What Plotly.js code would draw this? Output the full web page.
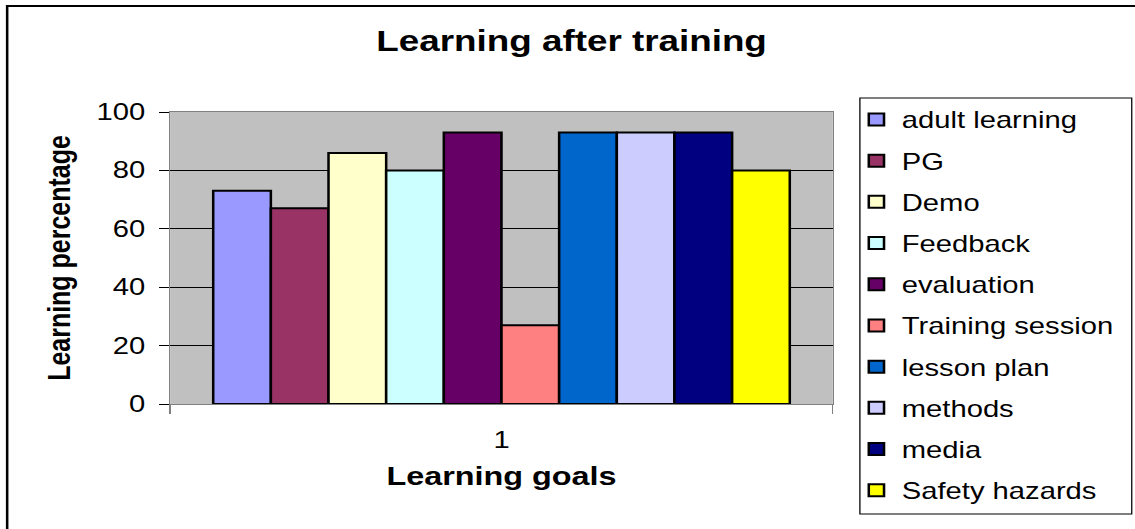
<!DOCTYPE html>
<html>
<head>
<meta charset="utf-8">
<script src="https://cdn.plot.ly/plotly-3.0.1.min.js"></script>
<style>
  html, body { margin: 0; padding: 0; background: #ffffff; overflow: hidden; }
  #chart { width: 894px; height: 529px; transform: scaleX(1.2696); transform-origin: 0 0; }
</style>
</head>
<body>
<div id="chart"></div>
<script>
// ---- data ----
const categories = ['1'];
const seriesNames = ['adult learning', 'PG', 'Demo', 'Feedback', 'evaluation',
  'Training session', 'lesson plan', 'methods', 'media', 'Safety hazards'];
const seriesValues = [73, 67, 86, 80, 93, 27, 93, 93, 93, 80];
const seriesColors = ['#9999FF', '#993366', '#FFFFCC', '#CCFFFF', '#660066',
  '#FF8080', '#0066CC', '#CCCCFF', '#000080', '#FFFF00'];
const yTicks = [0, 20, 40, 60, 80, 100];

const FONT = '"Liberation Sans", Arial, sans-serif';

const traces = seriesNames.map((name, i) => ({
  type: 'bar',
  name: name,
  x: categories,
  y: [seriesValues[i]],
  legendgroup: 'g' + i,
  marker: { color: seriesColors[i], line: { color: '#000000', width: 2 } },
  hoverinfo: 'name+y'
}));

const layout = {
  width: 894,
  height: 529,
  margin: { l: 133.9, r: 237.9, t: 112, b: 125, autoexpand: false },
  paper_bgcolor: '#ffffff',
  plot_bgcolor: '#C0C0C0',
  barmode: 'group',
  bargap: 0.13,
  bargroupgap: 0,
  font: { family: FONT, color: '#000000' },
  title: {
    text: '<b>Learning after training</b>',
    font: { family: FONT, size: 29, color: '#000000' },
    xref: 'container', x: 0.5036, xanchor: 'center',
    yref: 'container', y: 0.9228, yanchor: 'middle'
  },
  xaxis: {
    type: 'category',
    range: [-0.5, 0.5],
    showgrid: false,
    showline: true, mirror: true, linecolor: '#808080', linewidth: 1,
    ticks: 'outside', tickson: 'boundaries', ticklen: 9, tickcolor: '#808080',
    tickfont: { family: FONT, size: 23, color: '#000000' },
    ticklabelstandoff: 15,
    title: { text: '<b>Learning goals</b>', font: { family: FONT, size: 25.5, color: '#000000' }, standoff: 15 },
    automargin: false,
    fixedrange: true
  },
  yaxis: {
    range: [0, 100],
    tickvals: yTicks,
    ticktext: yTicks.map(String),
    showgrid: true, gridcolor: '#000000', gridwidth: 1,
    zeroline: false,
    showline: true, mirror: true, linecolor: '#808080', linewidth: 1,
    ticks: 'outside', ticklen: 8, tickcolor: '#000000',
    tickfont: { family: FONT, size: 23, color: '#000000' },
    ticklabelstandoff: 6,
    title: { text: '<b>Learning percentage</b>', font: { family: FONT, size: 25, color: '#000000' }, standoff: 13 },
    automargin: false,
    fixedrange: true
  },
  legend: {
    x: 1.0274, xanchor: 'left',
    y: 1.048, yanchor: 'top',
    bgcolor: 'rgba(255,255,255,0)',
    borderwidth: 0,
    font: { family: FONT, size: 23, color: '#000000' },
    tracegroupgap: 8.3,
    traceorder: 'grouped',
    maxheight: 600
  },
  shapes: [
    {
      // outer chart-area frame
      type: 'rect', xref: 'paper', yref: 'paper',
      x0: -0.2459, x1: 1.6, y0: -0.6, y1: 1.363,
      line: { color: '#000000', width: 2 },
      fillcolor: 'rgba(0,0,0,0)',
      layer: 'below'
    },
    {
      // legend frame
      type: 'rect', xref: 'paper', yref: 'paper',
      x0: 1.0408, x1: 1.451, y0: -0.3767, y1: 1.048,
      line: { color: '#000000', width: 1 },
      fillcolor: '#ffffff',
      layer: 'below'
    }
  ],
  showlegend: true
};

Plotly.newPlot('chart', traces, layout, { displayModeBar: false, staticPlot: true });
</script>
</body>
</html>
